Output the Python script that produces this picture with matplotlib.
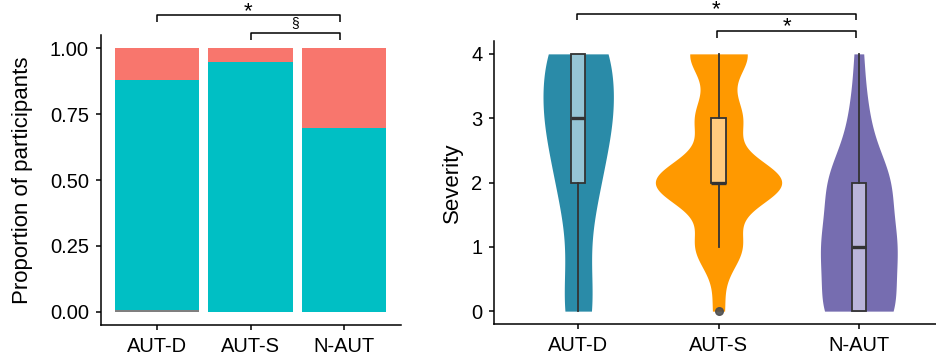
import numpy as np
import matplotlib
matplotlib.use("Agg")
import matplotlib.pyplot as plt

plt.rcParams['font.family'] = ['Liberation Sans', 'DejaVu Sans']

# ---------------- data ----------------
groups = ["AUT-D", "AUT-S", "N-AUT"]
# left panel: stacked proportions (bottom -> top)
prop_na = [0.006, 0.0, 0.0]
prop_teal = [0.874, 0.947, 0.697]
prop_salmon = [0.120, 0.053, 0.303]

# right panel: severity counts at levels 0..4
levels = [0, 1, 2, 3, 4]
counts_autd = [4, 2, 5, 8, 8]
counts_auts = [1, 4, 11, 4, 5]
counts_naut = [8, 8, 7, 2, 1]

# significance annotations: (x1, x2, label, bracket y, tip y)
left_sig = [(1, 2.95, "*", 1.124, 1.098), (2, 2.95, "§", 1.056, 1.030)]
right_sig = [(0.99, 2.98, "*", 4.62, 4.52), (1.99, 2.98, "*", 4.36, 4.25)]

violin_cols = ["#2A8BA8", "#FF9900", "#766DB0"]
box_cols = ["#96C5D5", "#FFCB7F", "#BAB5DA"]
teal = "#00BFC4"
salmon = "#F8766D"
na_grey = "#7F7F7F"

TICK_FS = 14.5
LAB_FS = 16

fig = plt.figure(figsize=(9.36, 3.6), dpi=100)

# ---------------- left panel ----------------
ax1 = fig.add_axes([100.5 / 936, 1 - 325 / 360, 300 / 936, (325 - 35) / 360])
x = np.arange(1, 4)
ax1.bar(x, prop_na, width=0.9, color=na_grey, linewidth=0)
ax1.bar(x, prop_teal, width=0.9, bottom=prop_na, color=teal, linewidth=0)
bott = np.array(prop_na) + np.array(prop_teal)
ax1.bar(x, prop_salmon, width=0.9, bottom=bott, color=salmon, linewidth=0)
ax1.set_xlim(0.4, 3.6)
ax1.set_ylim(-0.05, 1.05)
ax1.set_yticks([0, 0.25, 0.5, 0.75, 1.0])
ax1.set_yticklabels(["0.00", "0.25", "0.50", "0.75", "1.00"])
ax1.set_xticks(x)
ax1.set_xticklabels(groups)
ax1.set_ylabel("Proportion of participants", fontsize=LAB_FS, labelpad=12)
for x1, x2, lab, yb, yt in left_sig:
    ax1.plot([x1, x1, x2, x2], [yt, yb, yb, yt], color="black", lw=1.1,
             clip_on=False, solid_capstyle="butt")
    if lab == "§":
        ax1.text((x1 + x2) / 2, yb + 0.012, lab, ha="center", va="bottom",
                 fontsize=10, clip_on=False)
    else:
        ax1.text((x1 + x2) / 2, yb - 0.025, lab, ha="center", va="bottom",
                 fontsize=16, clip_on=False)

# ---------------- right panel ----------------
ax2 = fig.add_axes([494 / 936, 1 - 324 / 360, (936 - 494) / 936, (324 - 41) / 360])


def nrd0(d):
    d = np.asarray(d, float)
    sd = d.std(ddof=1)
    q75, q25 = np.percentile(d, [75, 25])
    lo = min(sd, (q75 - q25) / 1.34)
    if lo == 0:
        lo = sd if sd > 0 else 1.0
    return 0.9 * lo * len(d) ** (-0.2)


def kde(d, grid):
    bw = nrd0(d)
    z = (grid[:, None] - d[None, :]) / bw
    return np.exp(-0.5 * z ** 2).sum(axis=1) / (len(d) * bw * np.sqrt(2 * np.pi))


all_counts = [counts_autd, counts_auts, counts_naut]
datas = [np.repeat(levels, c).astype(float) for c in all_counts]
grids = [np.linspace(d.min(), d.max(), 512) for d in datas]
dens = [kde(d, g) for d, g in zip(datas, grids)]
dmax = max(dd.max() for dd in dens)
for i, (g, dd) in enumerate(zip(grids, dens)):
    hw = 0.45 * dd / dmax
    ax2.fill_betweenx(g, i + 1 - hw, i + 1 + hw, color=violin_cols[i], linewidth=0)

bp = ax2.boxplot(datas, positions=[1, 2, 3], widths=0.1, patch_artist=True,
                 whis=1.5, showcaps=False,
                 boxprops=dict(edgecolor="#333333", linewidth=1.3),
                 medianprops=dict(color="#333333", linewidth=2.4),
                 whiskerprops=dict(color="#333333", linewidth=1.3),
                 flierprops=dict(marker="o", markerfacecolor="#4D4D4D",
                                 markeredgecolor="#4D4D4D", markersize=5.5, alpha=0.9))
for patch, c in zip(bp["boxes"], box_cols):
    patch.set_facecolor(c)

ax2.set_xlim(0.4, 3.55)
ax2.set_ylim(-0.2, 4.2)
ax2.set_yticks([0, 1, 2, 3, 4])
ax2.set_xticks([1, 2, 3])
ax2.set_xticklabels(groups)
ax2.set_ylabel("Severity", fontsize=LAB_FS, labelpad=6)
for x1, x2, lab, yb, yt in right_sig:
    ax2.plot([x1, x1, x2, x2], [yt, yb, yb, yt], color="black", lw=1.1,
             clip_on=False, solid_capstyle="butt")
    ax2.text((x1 + x2) / 2, yb - 0.1, lab, ha="center", va="bottom",
             fontsize=16, clip_on=False)

for ax in (ax1, ax2):
    for s in ("top", "right"):
        ax.spines[s].set_visible(False)
    for s in ("left", "bottom"):
        ax.spines[s].set_linewidth(1.1)
    ax.tick_params(axis="both", labelsize=TICK_FS, length=3.8, width=1.1,
                   color="black", labelcolor="black", pad=4.5)

fig.savefig("out.png", dpi=100)
